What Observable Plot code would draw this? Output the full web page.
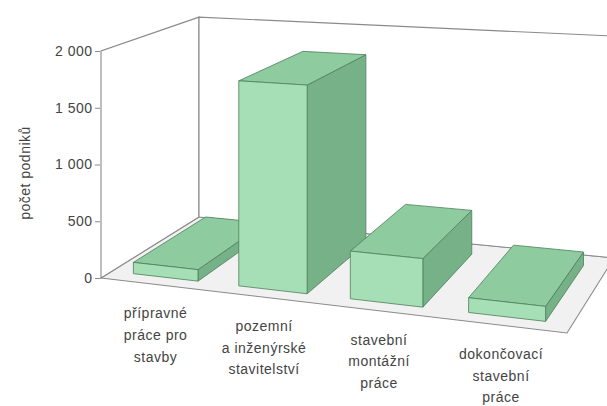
<!DOCTYPE html>
<html><head><meta charset="utf-8">
<script src="https://cdn.jsdelivr.net/npm/d3@7"></script>
<script src="https://cdn.jsdelivr.net/npm/@observablehq/plot@0.6"></script>
<style>
html,body{margin:0;padding:0;background:#fff;overflow:hidden}
#chart svg{display:block}
</style></head><body><div id="chart"></div>
<script>
// ---- data ----
const categories = [
  "přípravné\npráce pro\nstavby",
  "pozemní\na inženýrské\nstavitelství",
  "stavební\nmontážní\npráce",
  "dokončovací\nstavební\npráce"
];
const values = [100, 1770, 400, 120];
const yTicks = [0, 500, 1000, 1500, 2000];
const yTickLabels = ["0", "500", "1 000", "1 500", "2 000"];
const yLabel = "počet podniků";
const yMax = 2000;

const data = categories.map((c, i) => ({cat: c, value: values[i]}));

// ---- layout / projection (2-point perspective floor) ----
const W = 607, H = 406;
const mLeft = 100, mTop = 51, mBottom = 128;
const floorFL = [101, 278], floorFR = [567, 333], floorBR = [614, 258], floorBL = [199, 217];
const depthFront = 0.1, depthBack = 0.85;

function quadMap(p0, p1, p2, p3) {
  const dx1 = p1[0]-p2[0], dx2 = p3[0]-p2[0], dx3 = p0[0]-p1[0]+p2[0]-p3[0];
  const dy1 = p1[1]-p2[1], dy2 = p3[1]-p2[1], dy3 = p0[1]-p1[1]+p2[1]-p3[1];
  const den = dx1*dy2 - dx2*dy1;
  const g = (dx3*dy2 - dx2*dy3)/den, h = (dx1*dy3 - dx3*dy1)/den;
  const a = p1[0]-p0[0]+g*p1[0], b = p3[0]-p0[0]+h*p3[0], c = p0[0];
  const d = p1[1]-p0[1]+g*p1[1], e = p3[1]-p0[1]+h*p3[1], f = p0[1];
  return (u, v, lift = 0) => {
    const w = g*u + h*v + 1;
    return [(a*u + b*v + c)/w, (d*u + e*v + f - lift)/w];
  };
}
const proj = quadMap(floorFL, floorFR, floorBR, floorBL);
const pts = (arr) => arr.map(p => p[0].toFixed(2) + "," + p[1].toFixed(2)).join(" ");

const wallStroke = "#8a8a8a";

function renderRoom(index, scales) {
  const Y = scales.y;
  const top = Y(0) - Y(yMax);
  const P = proj;
  const g = d3.create("svg:g");
  g.append("polygon").attr("points", pts([P(0,0,0), P(1,0,0), P(1,1,0), P(0,1,0)]))
    .attr("fill", "#f1f1f1").attr("stroke", wallStroke).attr("stroke-width", 1.1);
  g.append("polygon").attr("points", pts([P(0,0,0), P(0,1,0), P(0,1,top), P(0,0,top)]))
    .attr("fill", "#ffffff").attr("stroke", wallStroke).attr("stroke-width", 1.1);
  g.append("polygon").attr("points", pts([P(0,1,0), P(1,1,0), P(1,1,top), P(0,1,top)]))
    .attr("fill", "#ffffff").attr("stroke", wallStroke).attr("stroke-width", 1.1);
  return g.node();
}

function bandwidthOf(scales) {
  const X = scales.x;
  return X.bandwidth ? X.bandwidth() : scales.scales.x.bandwidth;
}

function renderBars(index, scales) {
  const X = scales.x, Y = scales.y;
  const bw = bandwidthOf(scales);
  const g = d3.create("svg:g").attr("stroke", "#4d7f5a").attr("stroke-width", 0.8).attr("stroke-linejoin", "round");
  const order = Array.from(index).sort((a, b) => X(data[a].cat) - X(data[b].cat));
  for (const i of order) {
    const u0 = X(data[i].cat), u1 = u0 + bw;
    const L = Y(0) - Y(data[i].value);
    const v0 = depthFront, v1 = depthBack, P = proj;
    g.append("polygon").attr("points", pts([P(u1,v0,0), P(u1,v1,0), P(u1,v1,L), P(u1,v0,L)])).attr("fill", "#76b188");
    g.append("polygon").attr("points", pts([P(u0,v0,L), P(u1,v0,L), P(u1,v1,L), P(u0,v1,L)])).attr("fill", "#8ecb9f");
    g.append("polygon").attr("points", pts([P(u0,v0,0), P(u1,v0,0), P(u1,v0,L), P(u0,v0,L)])).attr("fill", "#a6dfb6");
  }
  return g.node();
}

function renderLabels(index, scales, values, dims, ctx, next) {
  const X = scales.x;
  const bw = bandwidthOf(scales);
  const xs = new Float64Array(data.length), ys = new Float64Array(data.length);
  for (const i of index) {
    const p = proj(X(data[i].cat) + bw/2, 0, 0);
    xs[i] = p[0]; ys[i] = p[1];
  }
  return next(index, scales, {...values, x: xs, y: ys}, dims, ctx);
}

const chart = Plot.plot({
  width: W, height: H,
  marginLeft: mLeft, marginRight: 0, marginTop: mTop, marginBottom: mBottom,
  style: {fontFamily: "'Liberation Sans', Arial, sans-serif", fontSize: "14px", letterSpacing: "0.5px", color: "#444", background: "#fff", overflow: "hidden"},
  x: {type: "band", domain: categories, range: [0, 1], round: false, paddingInner: 0.38, paddingOuter: 0.21, axis: null},
  y: {domain: [0, yMax]},
  marks: [
    Plot.ruleY([0], {render: renderRoom}),
    Plot.axisY({ticks: yTicks, tickFormat: d => yTickLabels[yTicks.indexOf(d)], tickSize: 5, tickPadding: 3, label: null, stroke: wallStroke, fill: "#444", fontSize: 14}),
    Plot.barY(data, {x: "cat", y: "value", render: renderBars}),
    Plot.text(data, {x: "cat", text: "cat", render: renderLabels, lineAnchor: "top", lineHeight: 1.55, dy: 18, fontSize: 14, fill: "#444", textAnchor: "middle"}),
    Plot.text([yLabel], {frameAnchor: "left", rotate: -90, dx: -75, dy: 8, textAnchor: "middle", lineAnchor: "middle", fontSize: 14, fill: "#444"})
  ]
});
document.getElementById("chart").appendChild(chart);
</script>
</body></html>
